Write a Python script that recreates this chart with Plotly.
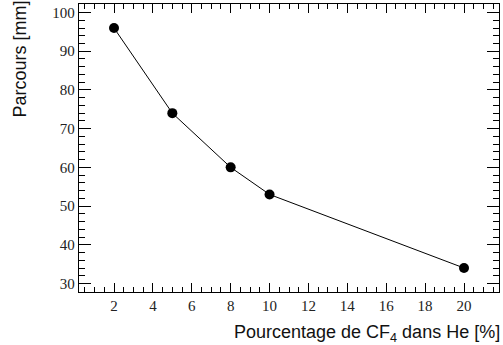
import plotly.graph_objects as go

pourcentage = [2, 5, 8, 10, 20]
parcours = [96, 74, 60, 53, 34]
x_ticks = [2, 4, 6, 8, 10, 12, 14, 16, 18, 20]
y_ticks = [30, 40, 50, 60, 70, 80, 90, 100]

fig = go.Figure()
fig.add_trace(go.Scatter(
    x=pourcentage, y=parcours, mode="lines+markers",
    line=dict(color="black", width=1),
    marker=dict(color="black", size=10),
    showlegend=False,
))

tickfont = dict(family="Liberation Serif", size=15, color="#222")
fig.update_xaxes(
    range=[0.2, 21.8], tickmode="array", tickvals=x_ticks, ticks="inside", ticklen=9, tickwidth=1.3,
    tickcolor="black", mirror="ticks", showline=True, linecolor="black", linewidth=1.3,
    showgrid=False, zeroline=False, tickfont=tickfont,
    minor=dict(dtick=0.5, tick0=0, ticks="inside", ticklen=5, tickcolor="black", tickwidth=1.3, showgrid=False),
)
fig.update_yaxes(
    range=[27.8, 102.2], tickmode="array", tickvals=y_ticks, ticks="inside", ticklen=12, tickwidth=1.3,
    tickcolor="black", mirror="ticks", showline=True, linecolor="black", linewidth=1.3,
    showgrid=False, zeroline=False, tickfont=tickfont,
    minor=dict(dtick=2, tick0=0, ticks="inside", ticklen=6, tickcolor="black", tickwidth=1.3, showgrid=False),
)

titlefont = dict(family="Liberation Sans", size=18, color="#111")
fig.add_annotation(
    text="Pourcentage de CF<sub>4</sub> dans He [%]", xref="paper", yref="paper",
    x=1, y=0, xanchor="right", yanchor="top", yshift=-28, xshift=3, showarrow=False, font=titlefont,
)
fig.add_annotation(
    text="Parcours [mm]", xref="paper", yref="paper", textangle=-90,
    x=0, y=1, xanchor="left", yanchor="top", xshift=-72, yshift=5, showarrow=False, font=titlefont,
)

fig.update_layout(
    width=503, height=345, margin=dict(l=79, r=4, t=4, b=53),
    paper_bgcolor="white", plot_bgcolor="white",
)
fig.write_html("out.html")
